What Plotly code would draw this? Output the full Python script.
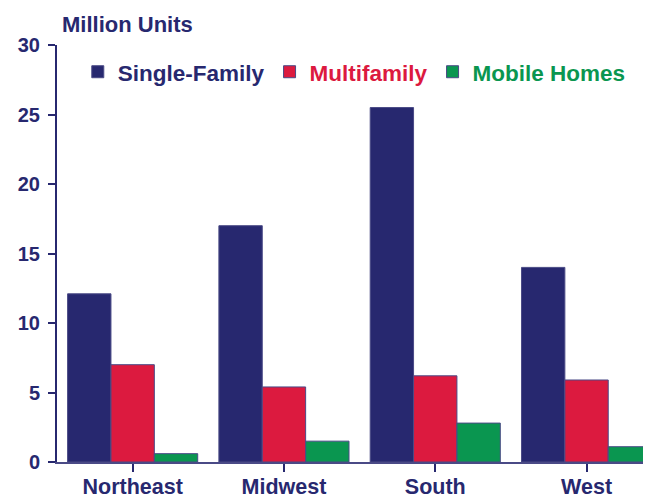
import plotly.graph_objects as go

regions = ["Northeast", "Midwest", "South", "West"]
single_family = [12.1, 17.0, 25.5, 14.0]
multifamily = [7.0, 5.4, 6.2, 5.9]
mobile_homes = [0.6, 1.5, 2.8, 1.1]
y_ticks = [0, 5, 10, 15, 20, 25, 30]

NAVY = "#27286F"
RED = "#DC1A3F"
GREEN = "#0A9650"
OUTLINE = "#4A4A86"
FONT = "Liberation Sans, Arial, sans-serif"

fig = go.Figure()
for name, vals, col in [
    ("Single-Family", single_family, NAVY),
    ("Multifamily", multifamily, RED),
    ("Mobile Homes", mobile_homes, GREEN),
]:
    fig.add_trace(go.Bar(
        x=regions, y=vals,
        name=f"<span style='color:{col}'>{name}</span>",
        marker=dict(color=col, line=dict(color=OUTLINE, width=1)),
    ))

fig.update_layout(
    width=651, height=500,
    barmode="group", bargap=0.14, bargroupgap=0,
    plot_bgcolor="white", paper_bgcolor="white",
    margin=dict(l=49, r=8, t=37, b=46, autoexpand=False),
    font=dict(family=FONT, color=NAVY, size=18, weight="bold"),
    showlegend=True,
    legend=dict(orientation="h", x=0.035, y=0.935, xanchor="left", yanchor="middle",
                font=dict(size=22.5, family=FONT, weight="bold"),
                bgcolor="rgba(0,0,0,0)", traceorder="normal", itemwidth=30,
                tracegroupgap=0),
    annotations=[dict(text="Million Units", xref="paper", yref="paper",
                      x=0.005, y=1.05, xanchor="left", yanchor="middle",
                      showarrow=False, font=dict(size=22, family=FONT, color=NAVY, weight="bold"))],
)
fig.update_xaxes(
    range=[-0.5, 3.426], showline=True, linecolor=OUTLINE, linewidth=2,
    ticks="outside", ticklen=8, tickwidth=1.5, tickcolor=NAVY, ticklabelstandoff=-4,
    tickfont=dict(size=21.5, family=FONT, color=NAVY, weight="bold"),
    showgrid=False, zeroline=False, automargin=False,
)
fig.update_yaxes(
    range=[0, 30], tickvals=y_ticks, showline=True, linecolor=NAVY, linewidth=2,
    ticks="outside", ticklen=7, tickwidth=1.5, tickcolor=NAVY, ticklabelstandoff=4,
    tickfont=dict(size=20, family=FONT, color=NAVY, weight="bold"),
    showgrid=False, zeroline=False, automargin=False,
)

fig.write_html("out.html")
